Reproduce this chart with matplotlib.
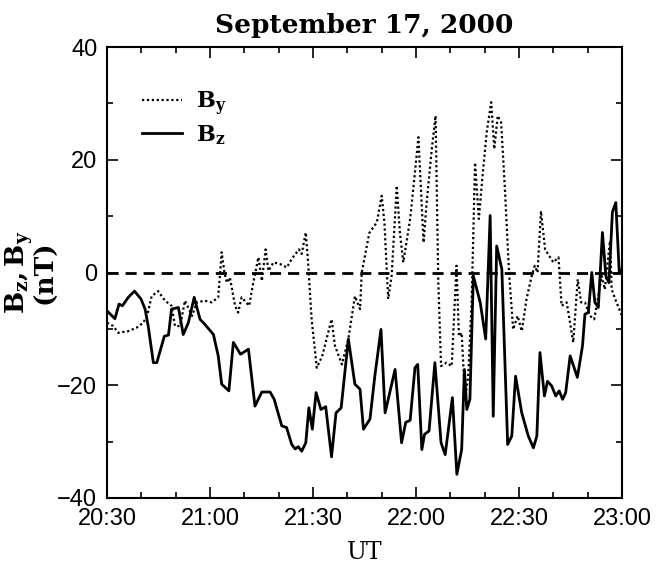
import numpy as np
import matplotlib.pyplot as plt

# minutes after 20:30 UT
t_bz = [0.0, 2.3, 3.5, 4.5, 6.2, 8.0, 9.9, 11.1, 12.0, 13.5, 14.5, 16.7, 17.9, 18.8,
        20.8, 22.2, 23.7, 25.4, 27.1, 28.5, 31.0, 32.4, 33.4, 35.5, 36.8, 38.9,
        41.2, 43.1, 45.1, 47.5, 48.7, 50.9, 52.3, 53.8, 54.8, 55.7, 56.7, 57.9,
        58.8, 59.8, 60.9, 62.3, 63.7, 65.4, 66.7, 68.2, 70.3, 72.2, 73.7, 74.7,
        76.6, 78.0, 79.8, 81.0, 83.9, 85.8, 87.0, 88.3, 89.7, 90.5, 91.7, 92.5,
        93.8, 95.5, 97.3, 98.5, 100.6, 101.9, 103.3, 104.1, 104.8, 105.7, 106.7,
        108.7, 110.3, 111.6, 112.5, 113.5, 115.0, 116.7, 117.9, 119.0, 120.8,
        122.7, 124.2, 125.2, 126.1, 127.4, 128.3, 129.5, 130.7, 131.7, 132.7,
        133.6, 134.9, 137.0, 138.5, 139.2, 140.2, 141.2, 142.1, 143.1, 144.3,
        145.3, 146.2, 147.2, 148.2, 149.2, 150.0]
bz = [-6.8, -8.2, -5.6, -5.9, -4.4, -3.3, -4.7, -6.5, -9.5, -16.0, -16.0, -11.3, -11.1, -6.5,
      -6.2, -11.0, -8.9, -4.4, -8.3, -9.2, -11.0, -14.8, -19.8, -21.0, -12.4, -14.5,
      -13.6, -23.7, -21.2, -21.2, -22.5, -27.2, -27.5, -30.5, -31.3, -30.9, -31.7, -30.2,
      -24.0, -27.8, -21.3, -24.3, -23.8, -32.7, -24.9, -24.0, -11.8, -19.8, -20.7, -27.8,
      -26.0, -18.4, -10.1, -24.9, -17.2, -30.2, -26.6, -26.2, -16.9, -16.3, -31.4, -28.7,
      -28.1, -16.0, -30.2, -32.3, -22.2, -35.8, -31.4, -17.2, -24.3, -22.5, -0.6,
      -5.3, -11.8, 10.1, -25.5, 4.7, 0.6, -30.5, -29.0, -18.4, -24.9,
      -29.0, -31.1, -29.0, -14.2, -21.9, -19.3, -20.1, -21.9, -21.0, -22.5,
      -21.3, -14.8, -18.6, -13.0, -7.4, -7.1, 0.0, -5.3, -6.2, 7.1,
      -0.6, -1.8, 10.7, 12.4, 0.0, 0.6]

t_by = [0.0, 1.8, 3.3, 6.2, 8.6, 10.6, 11.8, 13.0, 14.9, 16.9, 18.8, 19.8, 21.3, 22.7,
        24.8, 26.1, 28.5, 30.5, 32.4, 33.4, 34.2, 34.9, 35.8, 37.3, 38.2, 39.2, 41.4,
        42.6, 44.1, 45.1, 46.2, 47.0, 48.5, 50.4, 52.4, 53.8, 55.9, 56.7, 57.9, 58.5,
        59.6, 61.1, 62.7, 65.4, 66.4, 68.4, 70.3, 72.2, 73.7, 74.2, 76.4, 78.6, 80.0,
        80.8, 81.9, 82.9, 84.4, 85.3, 86.3, 88.3, 89.7, 90.7, 92.2, 93.1, 94.6, 95.7,
        96.5, 97.3, 98.9, 100.4, 101.8, 102.5, 103.3, 104.3, 105.2, 106.2, 107.2, 108.3,
        109.3, 110.6, 111.9, 112.8, 113.8, 114.8, 115.9, 117.1, 118.3, 119.6, 120.8,
        122.2, 123.7, 124.6, 125.4, 126.4, 127.6, 130.0, 131.5, 132.4, 133.9, 135.8,
        137.1, 138.1, 139.2, 140.7, 141.9, 143.1, 144.1, 145.0, 146.5, 147.0, 148.2, 150.0]
by = [-8.9, -9.5, -10.7, -10.4, -9.8, -8.9, -7.4, -4.2, -3.3, -5.0, -5.9, -9.5, -9.5, -5.0,
      -7.7, -5.3, -5.0, -5.3, -4.4, 3.6, 0.0, -1.8, -0.9, -5.9, -7.1, -4.4, -5.9,
      -1.8, 2.7, -1.5, 4.1, 0.3, 1.8, 1.5, 0.9, 2.4, 4.1, 3.3, 7.1, 2.4,
      -8.3, -16.9, -14.8, -8.3, -13.0, -16.3, -11.8, -4.2, -6.5, 0.0, 7.0, 8.9, 13.6,
      8.9, -4.7, -0.6, 15.4, 7.1, 1.8, 9.5, 17.8, 24.0, 5.3, 12.4, 21.9, 27.8,
      -1.8, -16.6, -16.0, -16.6, 1.2, -11.3, -10.7, -22.5, -18.4, -5.3, 19.5, 9.5,
      16.6, 24.9, 30.2, 21.9, 27.8, 26.6, 14.8, 0.0, -10.1, -7.7, -10.4,
      -4.7, -0.6, 1.2, 0.0, 10.9, 4.1, 1.8, 2.7, -5.9, -5.3, -12.4,
      -1.2, -5.3, -5.3, -7.7, -8.3, -4.2, -0.6, -3.0, 5.6, -3.0, -5.0, -7.7]

tick_pos = [0, 30, 60, 90, 120, 150]
tick_lab = ['20:30', '21:00', '21:30', '22:00', '22:30', '23:00']

plt.rcParams['mathtext.fontset'] = 'dejavuserif'

fig = plt.figure(figsize=(6.63, 5.71), dpi=100)
ax = fig.add_axes([107/663, 1-498/571, 515/663, 451/571])

ax.axhline(0, color='black', lw=2, ls=(0, (4, 2.5)))
ax.plot(t_by, by, color='black', lw=1.6, ls=(0, (1, 1.2)), label=r'$\mathbf{B_y}$')
ax.plot(t_bz, bz, color='black', lw=2.0, label=r'$\mathbf{B_z}$')

ax.set_xlim(0, 150)
ax.set_ylim(-40, 40)
ax.set_xticks(tick_pos)
ax.set_xticklabels(tick_lab)
ax.set_xticks(np.arange(0, 151, 10), minor=True)
ax.set_yticks([-40, -20, 0, 20, 40])
ax.set_yticklabels(['\u221240', '\u221220', '0', '20', '40'])
ax.set_yticks(np.arange(-40, 41, 10), minor=True)
ax.tick_params(which='both', direction='in', top=True, right=True, width=1.2)
ax.tick_params(which='major', length=8, labelsize=17, pad=7)
ax.tick_params(which='minor', length=4)
for lab in ax.get_xticklabels() + ax.get_yticklabels():
    lab.set_family('Liberation Sans')
for s in ax.spines.values():
    s.set_linewidth(1.5)

ax.set_title('September 17, 2000', family='DejaVu Serif', fontweight='bold',
             fontsize=19, pad=10)
ax.set_xlabel('UT', family='DejaVu Serif', fontsize=17, labelpad=8)
ax.set_ylabel('$\\mathbf{B_z,B_y}$\n(nT)', family='DejaVu Serif', fontweight='bold',
              fontsize=19, labelpad=0, linespacing=0.85)

ax.legend(loc='upper left', frameon=False, fontsize=16, handlelength=1.8,
          handletextpad=0.6, labelspacing=0.25, bbox_to_anchor=(0.03, 0.95))

fig.savefig('out.png', dpi=100)
